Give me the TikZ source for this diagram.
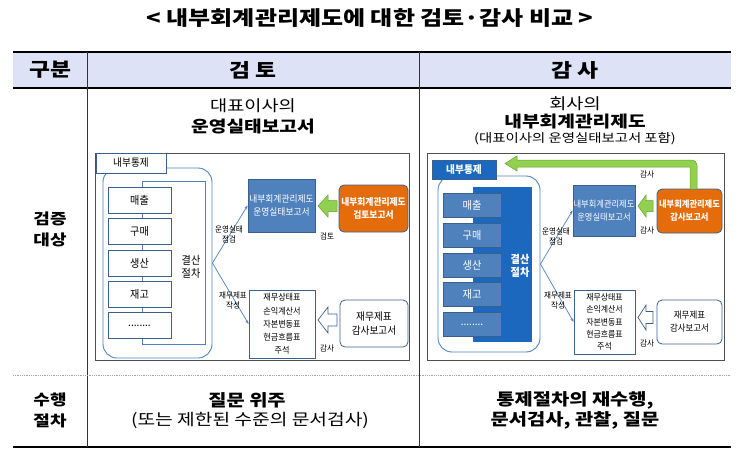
\documentclass[tikz,border=0pt]{standalone}
\usepackage{fontspec}
\setmainfont{Noto Sans CJK KR}[FakeStretch=1.2]
\newfontfamily\diagfont{Noto Sans CJK KR}[FakeStretch=0.92]
\usepackage{tikz}
\usetikzlibrary{arrows.meta,positioning,calc}
\definecolor{headblue}{RGB}{222,226,246}
\definecolor{boxblue}{RGB}{79,129,189}
\definecolor{deepblue}{RGB}{28,104,190}
\definecolor{edgeblue}{RGB}{60,96,140}
\definecolor{softorange}{RGB}{228,108,10}
\definecolor{leafgreen}{RGB}{146,208,80}
\definecolor{leafdark}{RGB}{100,160,50}
\definecolor{framegray}{RGB}{80,80,80}

\begin{document}
\begin{tikzpicture}[x=1pt, y=-1pt,
    title/.style={font=\bfseries\fontsize{20}{22}\selectfont, inner sep=0},
    colhead/.style={font=\bfseries\fontsize{19}{21}\selectfont, inner sep=0},
    rowhead/.style={font=\bfseries\fontsize{15}{21}\selectfont, align=center, inner sep=0},
    celltxt/.style={font=\fontsize{16}{20}\selectfont, align=center, inner sep=0},
    cellbold/.style={font=\bfseries\fontsize{16.5}{20}\selectfont, align=center, inner sep=0},
    frame/.style={draw=framegray, line width=1pt},
    groupbox/.style={rectangle, draw=boxblue, line width=0.9pt, rounded corners=14pt},
    tabbox/.style={rectangle, draw=edgeblue, line width=0.8pt, inner sep=0,
        font=\diagfont\fontsize{10.5}{11}\selectfont},
    procbox/.style={rectangle, draw=edgeblue, line width=0.8pt, fill=white, inner sep=0,
        font=\diagfont\fontsize{11}{12}\selectfont},
    reportbox/.style={rectangle, draw=edgeblue, line width=0.8pt, fill=boxblue, text=white,
        inner sep=0, align=center, font=\diagfont\fontsize{9.5}{13}\selectfont},
    orangebox/.style={rectangle, draw=edgeblue, line width=0.8pt, fill=softorange, text=white,
        rounded corners=5pt, inner sep=0, align=center, font=\diagfont\bfseries\fontsize{9.5}{13}\selectfont},
    docbox/.style={rectangle, draw=edgeblue, line width=0.8pt, fill=white, inner sep=0,
        align=center, font=\diagfont\fontsize{8.8}{13.2}\selectfont},
    auditbox/.style={rectangle, draw=edgeblue, line width=0.8pt, fill=white, rounded corners=5pt,
        inner sep=0, align=center, font=\diagfont\fontsize{10.5}{14}\selectfont},
    arr/.style={-{Stealth[length=4pt, width=3pt]}, boxblue, line width=0.7pt},
    lbl/.style={font=\diagfont\fontsize{8.2}{10}\selectfont, align=center, inner sep=0},
    greenarr/.style={fill=leafgreen, draw=leafdark, line width=0.5pt},
    hollowarr/.style={fill=white, draw=edgeblue, line width=0.7pt}
]
    \useasboundingbox (0,0) rectangle (743,455);

    % === Title and table frame ===
    \node[title] (heading) at (370,18) {< 내부회계관리제도에 대한 검토·감사 비교 >};
    \fill[headblue] (13,52) rectangle (731,88);
    \draw[line width=1.6pt] (13,52) -- (731,52);
    \draw[line width=1.6pt] (13,88) -- (731,88);
    \draw[line width=1.6pt] (13,447) -- (731,447);
    \draw[line width=0.6pt, black!80] (87,52) -- (87,447);
    \draw[line width=0.6pt, black!80] (419,52) -- (419,447);
    \draw[gray!70, line width=0.8pt, densely dotted] (13,375) -- (731,375);

    \node[colhead] (hdkind) at (50,70) {구분};
    \node[colhead] (hdreview) at (253,70) {검 토};
    \node[colhead] (hdaudit) at (575,70) {감 사};

    \node[rowhead] (rowtarget) at (50,229) {검증\\대상};
    \node[rowhead] (rowproc) at (50,410) {수행\\절차};

    \node[celltxt, font=\fontsize{15.5}{18}\selectfont] (revtop) at (253,106) {대표이사의};
    \node[cellbold, font=\bfseries\fontsize{16}{18}\selectfont] (revname) at (253,127) {운영실태보고서};
    \node[celltxt, font=\fontsize{15.5}{18}\selectfont] (audtop) at (575,104) {회사의};
    \node[cellbold, font=\bfseries\fontsize{16}{18}\selectfont] (audname) at (575,122) {내부회계관리제도};
    \node[celltxt, font=\fontsize{12}{14}\selectfont] (audnote) at (575,139) {(대표이사의 운영실태보고서 포함)};

    \node[cellbold] (revhow) at (247,400) {질문 위주};
    \node[celltxt] (revhownote) at (250,420) {(또는 제한된 수준의 문서검사)};
    \node[cellbold] (audhow) at (575,410) {통제절차의 재수행,\\문서검사, 관찰, 질문};

    % === Left diagram: review ===
    \draw[frame] (95,153) rectangle (409,360);
    \node[groupbox, minimum width=109, minimum height=190] (groupL) at (157.5,263) {};
    \node[tabbox, fill=white, minimum width=70, minimum height=20] (tabL) at (131,163) {내부통제};
    \node[rectangle, draw=boxblue, line width=0.8pt, fill=white, minimum width=63, minimum height=163]
        (closeL) at (173.5,262.5) {};
    \node[procbox, minimum width=63, minimum height=26] (salesL) at (139.5,200) {매출};
    \node[procbox, minimum width=63, minimum height=26] (buyL) at (139.5,231.5) {구매};
    \node[procbox, minimum width=63, minimum height=26] (makeL) at (139.5,263) {생산};
    \node[procbox, minimum width=63, minimum height=26] (stockL) at (139.5,294) {재고};
    \node[procbox, minimum width=63, minimum height=26] (etcL) at (139.5,325.5) {........};
    \node[lbl, font=\diagfont\fontsize{11}{13.5}\selectfont] (closetxtL) at (191,267) {결산\\절차};

    \node[reportbox, minimum width=67, minimum height=53] (reportL) at (281.5,205.5) {내부회계관리제도\\운영실태보고서};
    \node[orangebox, minimum width=69, minimum height=47] (reviewL) at (373.5,208.5) {내부회계관리제도\\검토보고서};
    \node[docbox, minimum width=66, minimum height=68] (docL) at (282,324) {재무상태표\\손익계산서\\자본변동표\\현금흐름표\\주석};
    \node[auditbox, minimum width=68, minimum height=47] (auditL) at (374,323.5) {재무제표\\감사보고서};

    \draw[arr] (groupL.east) -- (reportL.west);
    \draw[arr] (groupL.east) -- (docL.west);
    \node[lbl] (checkL) at (229,234) {운영실태\\점검};
    \node[lbl] (writeL) at (233,300) {재무제표\\작성};

    \draw[greenarr] (318,206) -- (328,195) -- (328,200.5) -- (337,200.5) -- (337,211.5)
        -- (328,211.5) -- (328,217) -- cycle;
    \draw[hollowarr] (318,320) -- (328,307) -- (328,314) -- (337,314) -- (337,326)
        -- (328,326) -- (328,333) -- cycle;
    \node[lbl] (revlblL) at (327,236) {검토};
    \node[lbl] (audlblL) at (327,348) {감사};

    % === Right diagram: audit ===
    \draw[frame] (427,153) rectangle (724,360);
    \node[groupbox, minimum width=102, minimum height=176] (groupR) at (489,264) {};
    \node[tabbox, fill=deepblue, text=white, font=\diagfont\bfseries\fontsize{10.5}{11}\selectfont,
        minimum width=64, minimum height=19] (tabR) at (464,169.5) {내부통제};
    \node[rectangle, fill=deepblue, minimum width=59, minimum height=155] (closeR) at (502.5,264.5) {};
    \node[procbox, fill=boxblue, text=white, minimum width=58, minimum height=24] (salesR) at (472,205) {매출};
    \node[procbox, fill=boxblue, text=white, minimum width=58, minimum height=24] (buyR) at (472,235) {구매};
    \node[procbox, fill=boxblue, text=white, minimum width=58, minimum height=24] (makeR) at (472,265) {생산};
    \node[procbox, fill=boxblue, text=white, minimum width=58, minimum height=24] (stockR) at (472,294) {재고};
    \node[procbox, fill=boxblue, text=white, minimum width=58, minimum height=24] (etcR) at (472,324.5) {........};
    \node[lbl, text=white, font=\diagfont\bfseries\fontsize{11}{13.5}\selectfont] (closetxtR) at (520,266) {결산\\절차};

    \node[reportbox, minimum width=62, minimum height=51, font=\diagfont\fontsize{9}{13}\selectfont] (reportR) at (604,210.5) {내부회계관리제도\\운영실태보고서};
    \node[orangebox, minimum width=65, minimum height=44, font=\diagfont\bfseries\fontsize{9}{13}\selectfont] (reviewR) at (689.5,211) {내부회계관리제도\\감사보고서};
    \node[docbox, minimum width=61, minimum height=64, font=\diagfont\fontsize{8.6}{12.3}\selectfont] (docR) at (604.5,322) {재무상태표\\손익계산서\\자본변동표\\현금흐름표\\주석};
    \node[auditbox, minimum width=65, minimum height=44, font=\diagfont\fontsize{9.2}{13}\selectfont] (auditR) at (689.5,322) {재무제표\\감사보고서};

    \draw[arr] (groupR.east) -- (reportR.west);
    \draw[arr] (groupR.east) -- (docR.west);
    \node[lbl] (checkR) at (556,236) {운영실태\\점검};
    \node[lbl] (writeR) at (558,300) {재무제표\\작성};

    \draw[greenarr] (638,206) -- (646,195) -- (646,200.5) -- (653,200.5) -- (653,211.5)
        -- (646,211.5) -- (646,217) -- cycle;
    \draw[hollowarr] (638,317.5) -- (646,305) -- (646,311.5) -- (653,311.5) -- (653,323.5)
        -- (646,323.5) -- (646,330) -- cycle;
    % L-shaped arrow from audit report back to internal control
    \draw[greenarr] (690,189) -- (690,167) -- (517,167) -- (517,171) -- (505,163.5) -- (517,156)
        -- (517,160) -- (692,160) to[out=0, in=90] (697,165) -- (697,189) -- cycle;
    \node[lbl] (audlblR1) at (647,174) {감사};
    \node[lbl] (audlblR2) at (647,230) {감사};
    \node[lbl] (audlblR3) at (647,343) {감사};
\end{tikzpicture}
\end{document}
